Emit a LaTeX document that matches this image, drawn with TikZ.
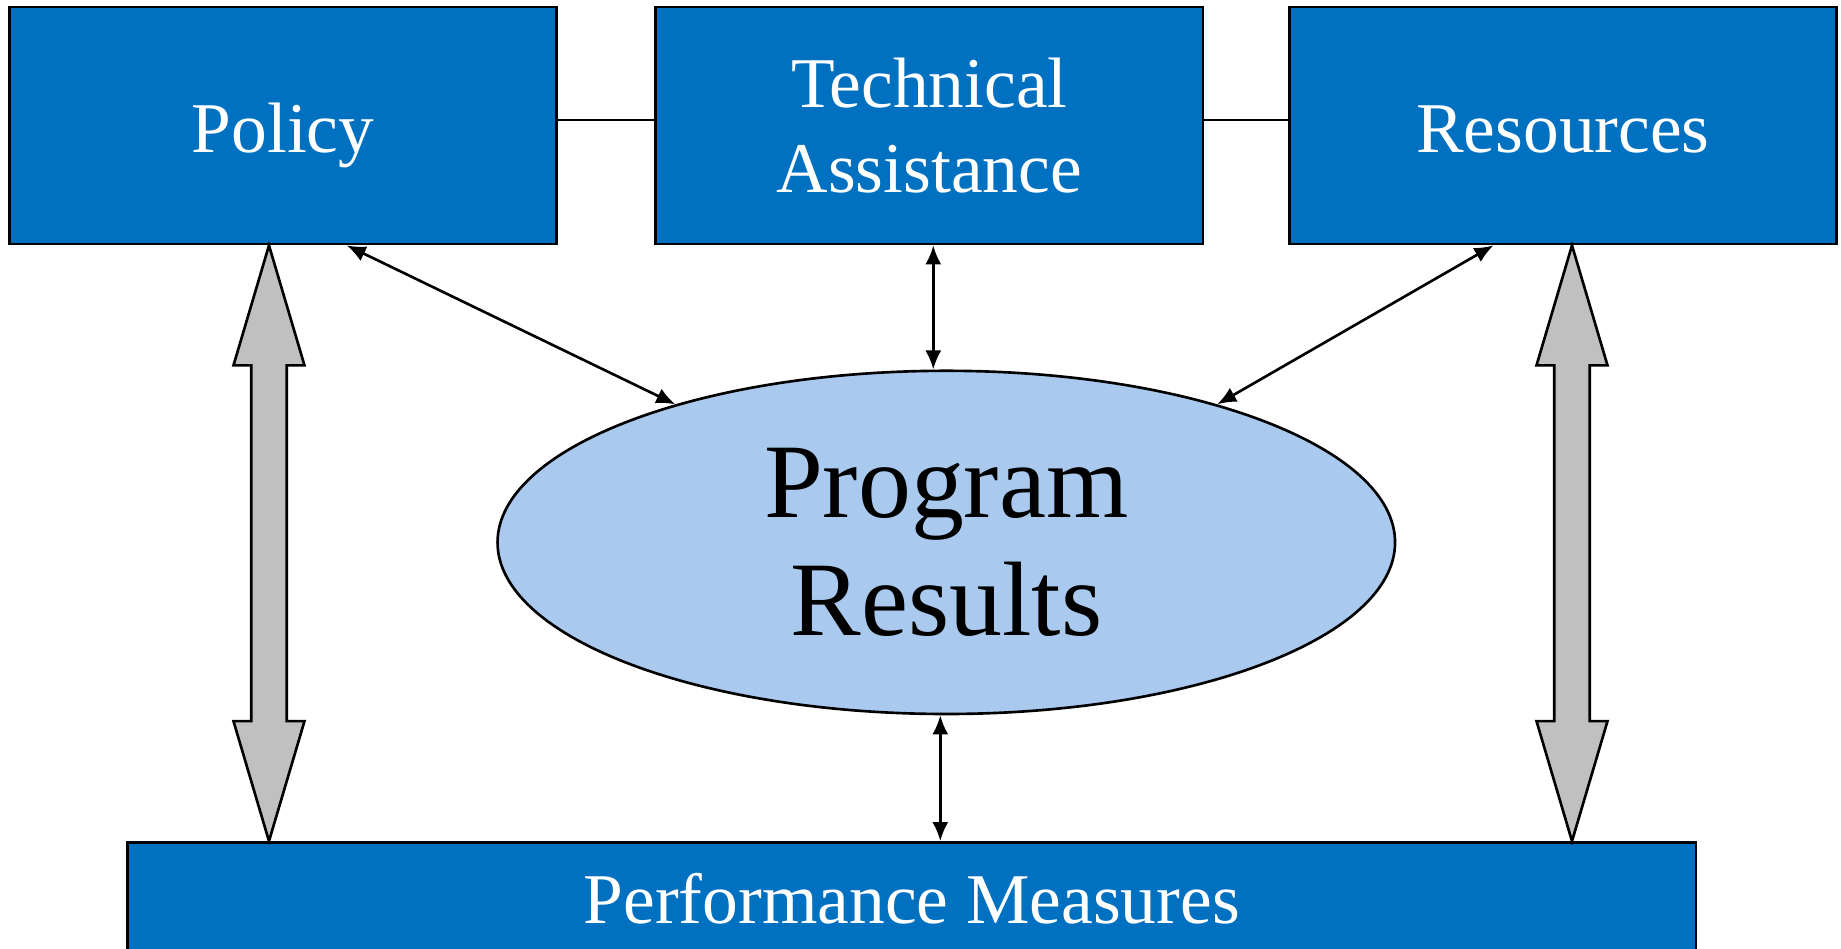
\documentclass[tikz,border=0pt]{standalone}
\usepackage{fontspec}
\setmainfont{Liberation Serif}
\usetikzlibrary{arrows.meta}
\usetikzlibrary{calc}
\usetikzlibrary{shapes.geometric}
\definecolor{boxblue}{RGB}{0,112,192}
\definecolor{ovalblue}{RGB}{169,202,238}
\definecolor{arrowgray}{RGB}{192,192,192}

\begin{document}
\begin{tikzpicture}[x=0.01cm,y=-0.01cm]
	\tikzstyle{every node}+=[inner sep=0pt]
	\tikzstyle{bluebox}=[draw=black, line width=0.75pt, fill=boxblue, text=white, minimum width=5.47cm, minimum height=2.37cm, align=center, font=\fontsize{20.3}{24.2}\selectfont]
	\tikzstyle{oneline}=[text height=0.54cm, text depth=0pt]
	\tikzstyle{link}=[black, line width=0.75pt, >={Latex[length=0.19cm,width=0.16cm]}, <->]
	\tikzstyle{fatarrow}=[draw=black, line width=0.75pt, fill=arrowgray, line join=miter]
	\useasboundingbox (0,0) rectangle (1841,949);
	\clip (0,0) rectangle (1841,949);
	\node [bluebox, oneline] (policy) at (283,125.5) {Policy};
	\node [bluebox] (ta) at (929.3,125.5) {Technical\\Assistance};
	\node [bluebox, oneline] (resources) at (1563,125.5) {Resources};
	\node [ellipse, draw=black, line width=0.75pt, fill=ovalblue, minimum width=8.97cm, minimum height=3.43cm, align=center, font=\fontsize{30.1}{33.6}\selectfont] (results) at (946.3,542.4) {Program\\Results};
	\node [bluebox, oneline, text height=0.41cm, minimum width=15.675cm, minimum height=1.2cm] (perf) at (911.8,902.5) {Performance Measures};
	\draw [line width=0.75pt] ([yshift=0.055cm]policy.east) -- ([yshift=0.055cm]ta.west);
	\draw [line width=0.75pt] ([yshift=0.055cm]ta.east) -- ([yshift=0.055cm]resources.west);
	\coordinate (lt) at ([xshift=-0.14cm]policy.south);
	\coordinate (lb) at (lt |- perf.north);
	\coordinate (rt) at ([xshift=0.09cm]resources.south);
	\coordinate (rb) at (rt |- perf.north);
	\draw [fatarrow] (lt) -- ($(lt)+(35.5,120)$) -- ($(lt)+(17.8,120)$) -- ($(lb)+(17.8,-120)$) -- ($(lb)+(35.5,-120)$) -- (lb) -- ($(lb)+(-35.5,-120)$) -- ($(lb)+(-17.8,-120)$) -- ($(lt)+(-17.8,120)$) -- ($(lt)+(-35.5,120)$) -- cycle;
	\draw [fatarrow] (rt) -- ($(rt)+(35.5,120)$) -- ($(rt)+(17.8,120)$) -- ($(rb)+(17.8,-120)$) -- ($(rb)+(35.5,-120)$) -- (rb) -- ($(rb)+(-35.5,-120)$) -- ($(rb)+(-17.8,-120)$) -- ($(rt)+(-17.8,120)$) -- ($(rt)+(-35.5,120)$) -- cycle;
	\coordinate (tafoot) at ([xshift=0.04cm]ta.south);
	\coordinate (resultsfoot) at ([xshift=-0.06cm]results.south);
	\draw [link] ([xshift=0.637cm]policy.south) -- (results.153.4);
	\draw [link] (tafoot) -- (tafoot |- results.north);
	\draw [link] ([xshift=-0.695cm]resources.south) -- (results.27.7);
	\draw [link] (resultsfoot) -- (resultsfoot |- perf.north);
\end{tikzpicture}
\end{document}
